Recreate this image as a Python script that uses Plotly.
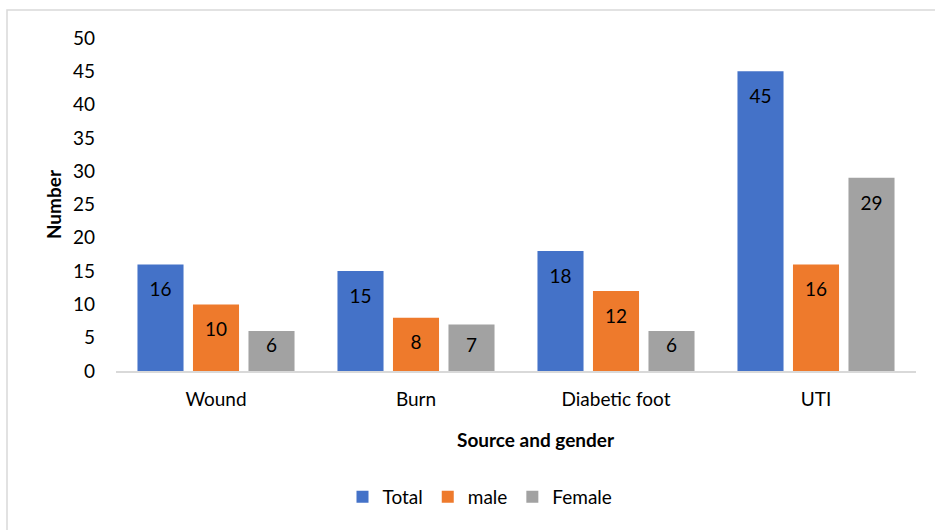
import plotly.graph_objects as go

categories = ["Wound", "Burn", "Diabetic foot", "UTI"]
total = [16, 15, 18, 45]
male = [10, 8, 12, 16]
female = [6, 7, 6, 29]
series_names = ["Total", "male", "Female"]
y_ticks = [0, 5, 10, 15, 20, 25, 30, 35, 40, 45, 50]

colors = ["#4472C8", "#EE7A2C", "#A2A2A2"]
FONT = "Lato"
FS = 19

fig = go.Figure()
series = [total, male, female]
for name, vals, col in zip(series_names, series, colors):
    fig.add_trace(go.Bar(
        x=categories, y=vals, name=name, marker=dict(color=col, line=dict(width=0)),
        hoverinfo="skip",
    ))
# data labels, placed inside near the bar top
for name, vals in zip(series_names, series):
    fig.add_trace(go.Scatter(
        x=categories, y=[max(v - 4.05, 3.6) for v in vals], mode="text",
        text=[str(v) for v in vals], textposition="middle center",
        textfont=dict(family=FONT, size=FS, color="#000000"),
        showlegend=False, hoverinfo="skip", cliponaxis=False,
    ))

fig.update_layout(
    width=935, height=530,
    margin=dict(l=116, r=19, t=38, b=159),
    paper_bgcolor="white", plot_bgcolor="white",
    barmode="group", bargap=0.1675, bargroupgap=0.17,
    scattermode="group", scattergap=0.1675,
    font=dict(family=FONT, size=FS, color="#000000"),
    legend=dict(orientation="h", x=0.455, xanchor="center", y=-0.378, yanchor="middle",
                font=dict(family=FONT, size=FS), itemwidth=30, traceorder="normal"),
    xaxis=dict(showgrid=False, showline=True, linecolor="#d9d9d9", linewidth=1.5,
               ticks="", ticklabelstandoff=10, tickfont=dict(family=FONT, size=FS)),
    yaxis=dict(range=[0, 50], tickvals=y_ticks, showgrid=False, zeroline=False,
               showline=False, ticks="", ticklabelstandoff=20,
               tickfont=dict(family=FONT, size=FS)),
    annotations=[
        dict(text="<b>Source and gender</b>", xref="paper", yref="paper", x=0.525, y=-0.207,
             xanchor="center", yanchor="middle", showarrow=False, font=dict(family=FONT, size=FS)),
        dict(text="<b>Number</b>", xref="paper", yref="paper", x=-0.078, y=0.5,
             xanchor="center", yanchor="middle", textangle=-90, showarrow=False,
             font=dict(family=FONT, size=FS)),
    ],
    shapes=[dict(type="rect", xref="paper", yref="paper", xsizemode="pixel", ysizemode="pixel",
                 xanchor=0, yanchor=1, x0=-109, x1=900, y0=28, y1=-600,
                 line=dict(color="#d9d9d9", width=1.5), fillcolor="rgba(0,0,0,0)", layer="below")],
)

fig.write_html("out.html")
